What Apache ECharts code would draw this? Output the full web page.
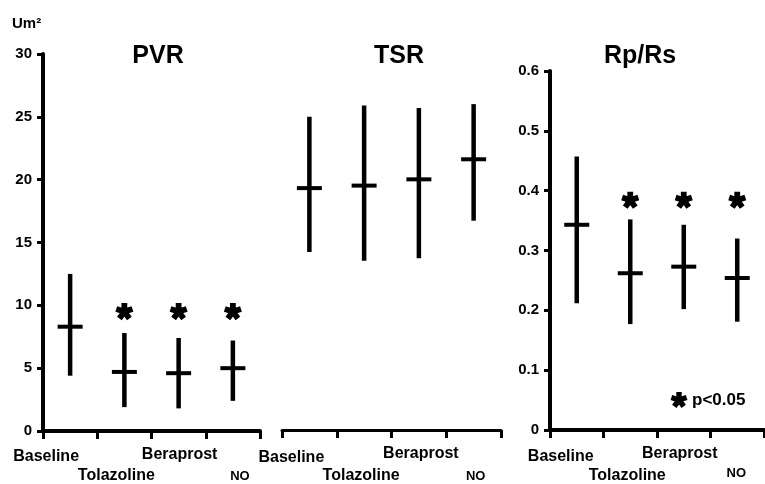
<!DOCTYPE html>
<html>
<head>
<meta charset="utf-8">
<script src="https://cdn.jsdelivr.net/npm/echarts@6/dist/echarts.min.js"></script>
<style>
  html, body { margin: 0; padding: 0; background: #fff; }
  #chart { width: 765px; height: 484px; }
</style>
</head>
<body>
<div id="chart"></div>
<script>
// categories and values
var categories = ['Baseline', 'Tolazoline', 'Beraprost', 'NO'];

// PVR (Um²)
var pvrMean = [8.3, 4.7, 4.6, 5.0];
var pvrHigh = [12.5, 7.8, 7.4, 7.2];
var pvrLow = [4.4, 1.9, 1.8, 2.4];
var pvrStar = ['-', 9.5, 9.5, 9.5];

// TSR (Um²)
var tsrMean = [19.3, 19.5, 20.0, 21.6];
var tsrHigh = [25.0, 25.9, 25.7, 26.0];
var tsrLow = [14.2, 13.5, 13.7, 16.7];

// Rp/Rs
var ratioMean = [0.343, 0.262, 0.273, 0.254];
var ratioHigh = [0.457, 0.352, 0.343, 0.320];
var ratioLow = [0.212, 0.177, 0.202, 0.181];
var ratioStar = ['-', 0.384, 0.384, 0.384];

// axis ticks
var umMin = 0, umMax = 30, umStep = 5;
var ratioMin = 0, ratioMax = 0.6, ratioStep = 0.1;

var FONT = '"Liberation Sans", Arial, Helvetica, sans-serif';

// label nudges per panel (horizontal / vertical), px
var labelDx = [[-24, -8, 1, 7], [-18, -3, 2, 2], [-16, -3, -4, -1]];
var labelDy = [[2, 21, 0, 23], [4, 22, 0, 24], [3, 22, 0, 21]];

// 5 armed asterisk, arms as quads (scale s, centre ox,oy)
function asteriskArms(s, ox, oy) {
  var arms = [];
  var w = 0.34, L = 1, back = 0.2;
  for (var k = 0; k < 5; k++) {
    var a = (-90 + 72 * k) * Math.PI / 180;
    var dx = Math.cos(a), dy = Math.sin(a);
    var px = -dy, py = dx;
    arms.push([
      [px * w - dx * back, py * w - dy * back],
      [px * w + dx * L, py * w + dy * L],
      [-px * w + dx * L, -py * w + dy * L],
      [-px * w - dx * back, -py * w - dy * back]
    ].map(function (p) { return [ox + p[0] * s, oy + p[1] * s]; }));
  }
  return arms;
}
var STAR = 'path://' + asteriskArms(100, 130, 130).map(function (arm) {
  return 'M' + arm.map(function (p) { return p[0].toFixed(1) + ' ' + p[1].toFixed(1); }).join('L') + 'Z';
}).join('');

function rangeData(low, high, mean) {
  return categories.map(function (c, i) {
    return [i, low[i], high[i], mean[i]];
  });
}

function renderRange(params, api) {
  var i = api.value(0);
  var top = api.coord([i, api.value(2)]);
  var bot = api.coord([i, api.value(1)]);
  var mid = api.coord([i, api.value(3)]);
  return {
    type: 'group',
    children: [
      {
        type: 'line',
        shape: { x1: top[0], y1: top[1], x2: bot[0], y2: bot[1] },
        style: { stroke: '#000', lineWidth: 4.5 }
      },
      {
        type: 'line',
        shape: { x1: mid[0] - 12.5, y1: mid[1], x2: mid[0] + 12.5, y2: mid[1] },
        style: { stroke: '#000', lineWidth: 4 }
      }
    ]
  };
}

function xAxisFor(p) {
  var rich = {};
  categories.forEach(function (c, i) {
    var dx = labelDx[p][i];
    rich['c' + i] = {
      padding: [labelDy[p][i], dx < 0 ? -2 * dx : 0, 0, dx > 0 ? 2 * dx : 0],
      fontSize: i === 3 ? 13 : 16,
      fontWeight: 'bold',
      color: '#000',
      fontFamily: FONT
    };
  });
  return {
    type: 'category',
    gridIndex: p,
    data: categories,
    boundaryGap: true,
    axisLine: { show: true, lineStyle: { color: '#000', width: p === 1 ? 3 : 4 } },
    axisTick: { show: true, alignWithLabel: false, interval: 0, length: 8, lineStyle: { color: '#000', width: 3 } },
    axisLabel: {
      interval: 0,
      margin: 16,
      formatter: function (v, i) { return '{c' + i + '|' + v + '}'; },
      rich: rich
    },
    splitLine: { show: false }
  };
}

function yAxisFor(p, min, max, step, show) {
  return {
    type: 'value',
    gridIndex: p,
    min: min,
    max: max,
    interval: step,
    show: show,
    axisLine: { show: true, lineStyle: { color: '#000', width: 4 } },
    axisTick: { show: true, length: 6, lineStyle: { color: '#000', width: 3 } },
    axisLabel: {
      margin: 11,
      color: '#000',
      fontSize: 15,
      fontWeight: 'bold',
      fontFamily: FONT,
      padding: [0, 0, 12, 0],
      formatter: function (v) { return p === 2 && v !== 0 ? v.toFixed(1) : String(v); }
    },
    splitLine: { show: false }
  };
}

function titleAt(text, x) {
  return {
    text: text,
    left: x,
    top: 39,
    textAlign: 'center',
    textStyle: { fontSize: 25, fontWeight: 'bold', color: '#000', fontFamily: FONT }
  };
}

var chart = echarts.init(document.getElementById('chart'), null, { renderer: 'canvas' });

var starStyle = { color: '#000', opacity: 1 };

var option = {
  backgroundColor: '#fff',
  animation: false,
  title: [titleAt('PVR', 153), titleAt('TSR', 394), titleAt('Rp/Rs', 635)],
  grid: [
    { left: 43, right: 505, top: 54, bottom: 51 },
    { left: 282, right: 264, top: 54, bottom: 51 },
    { left: 550, right: 1, top: 71, bottom: 54 }
  ],
  xAxis: [xAxisFor(0), xAxisFor(1), xAxisFor(2)],
  yAxis: [
    yAxisFor(0, umMin, umMax, umStep, true),
    yAxisFor(1, umMin, umMax, umStep, false),
    yAxisFor(2, ratioMin, ratioMax, ratioStep, true)
  ],
  series: [
    {
      type: 'custom', name: 'PVR', xAxisIndex: 0, yAxisIndex: 0,
      renderItem: renderRange, encode: { x: 0, y: [1, 2, 3] },
      data: rangeData(pvrLow, pvrHigh, pvrMean)
    },
    {
      type: 'custom', name: 'TSR', xAxisIndex: 1, yAxisIndex: 1,
      renderItem: renderRange, encode: { x: 0, y: [1, 2, 3] },
      data: rangeData(tsrLow, tsrHigh, tsrMean)
    },
    {
      type: 'custom', name: 'Rp/Rs', xAxisIndex: 2, yAxisIndex: 2,
      renderItem: renderRange, encode: { x: 0, y: [1, 2, 3] },
      data: rangeData(ratioLow, ratioHigh, ratioMean)
    },
    {
      type: 'scatter', xAxisIndex: 0, yAxisIndex: 0,
      symbol: STAR, symbolSize: 18, symbolKeepAspect: true,
      itemStyle: starStyle,
      data: pvrStar
    },
    {
      type: 'scatter', xAxisIndex: 2, yAxisIndex: 2,
      symbol: STAR, symbolSize: 18, symbolKeepAspect: true,
      itemStyle: starStyle,
      data: ratioStar
    }
  ],
  graphic: [
    {
      type: 'text', left: 12, top: 16,
      style: { text: 'Um²', fill: '#000', font: 'bold 15px ' + FONT }
    },
    {
      type: 'group',
      children: asteriskArms(8, 679, 400).map(function (arm) {
        return { type: 'polygon', shape: { points: arm }, style: { fill: '#000' } };
      })
    },
    {
      type: 'text', left: 692, top: 392,
      style: { text: 'p<0.05', fill: '#000', font: 'bold 17px ' + FONT }
    }
  ]
};

chart.setOption(option);
</script>
</body>
</html>
